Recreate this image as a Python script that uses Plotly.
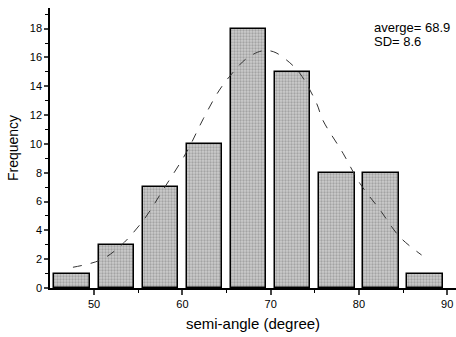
import plotly.graph_objects as go

# Histogram data
bin_centers = [47.5, 52.5, 57.5, 62.5, 67.5, 72.5, 77.5, 82.5, 87.5]
frequency = [1, 3, 7, 10, 18, 15, 8, 8, 1]
bar_width = 4

# Fitted curve, points
curve_x = [47.6, 50.7, 52.9, 55.6, 57.8, 60.5, 62.4, 64.2, 65.8, 67.3, 69.0, 70.3,
           71.8, 73.3, 75.2, 75.9, 78.2, 80.1, 82.4, 84.6, 87.1]
curve_y = [1.44, 1.94, 2.87, 4.72, 6.80, 9.46, 11.78, 13.74, 15.01, 15.94, 16.45, 16.40,
           15.82, 14.90, 12.82, 11.66, 9.35, 7.27, 5.41, 3.56, 2.29]

x_ticks = [50, 60, 70, 80, 90]
y_ticks = [0, 2, 4, 6, 8, 10, 12, 14, 16, 18]

fig = go.Figure()
fig.add_trace(go.Bar(
    x=bin_centers, y=frequency, width=bar_width,
    marker=dict(color="#c4c4c4",
                line=dict(color="black", width=1.5),
                pattern=dict(shape=".", fgcolor="#7a7a7a", bgcolor="#cccccc",
                             size=3, solidity=0.45)),
    showlegend=False,
))
fig.add_trace(go.Scatter(
    x=curve_x, y=curve_y, mode="lines",
    line=dict(color="#333333", width=1, dash="dash", shape="spline"),
    showlegend=False,
))

font = "Liberation Sans, Arial, sans-serif"
fig.update_layout(
    width=456, height=337,
    margin=dict(l=50, r=0, t=8, b=49),
    paper_bgcolor="white", plot_bgcolor="white",
    font=dict(family=font, color="black", size=11),
    bargap=0,
    xaxis=dict(range=[45, 91], tickvals=x_ticks, ticks="outside", ticklen=5,
               tickwidth=1.5, showline=True, linecolor="black", linewidth=1.5,
               showgrid=False, zeroline=False,
               minor=dict(tickvals=[55, 65, 75, 85], ticks="outside", ticklen=3,
                          tickwidth=1.2, tickcolor="black"),
               title=dict(text="semi-angle (degree)", font=dict(size=15), standoff=10),
               tickfont=dict(size=11)),
    yaxis=dict(range=[0, 19.43], tickvals=y_ticks, ticks="outside", ticklen=4,
               tickwidth=1.5, showline=True, linecolor="black", linewidth=1.5,
               showgrid=False, zeroline=False,
               minor=dict(tickvals=[1, 3, 5, 7, 9, 11, 13, 15, 17, 19], ticks="outside",
                          ticklen=3, tickwidth=1.2, tickcolor="black"),
               title=dict(text="Frequency", font=dict(size=14), standoff=8),
               tickfont=dict(size=11)),
    annotations=[
        dict(text="averge= 68.9", x=0.793, y=0.929, xref="paper", yref="paper",
             xanchor="left", yanchor="middle", showarrow=False, font=dict(size=13)),
        dict(text="SD= 8.6", x=0.793, y=0.879, xref="paper", yref="paper",
             xanchor="left", yanchor="middle", showarrow=False, font=dict(size=13)),
    ],
)

fig.write_html("out.html")
